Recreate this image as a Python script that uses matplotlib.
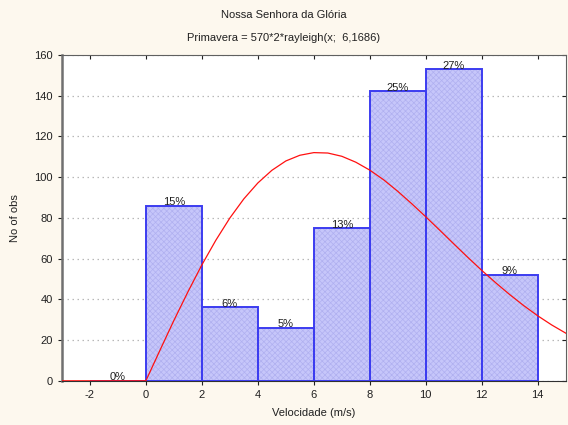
import numpy as np
import matplotlib.pyplot as plt
import matplotlib.lines as mlines

# histogram bins (left edges), counts
bin_left = [-2, 0, 2, 4, 6, 8, 10, 12]
counts = [0, 86, 36, 26, 75, 142, 153, 52]
pct_labels = ["0%", "15%", "6%", "5%", "13%", "25%", "27%", "9%"]

# fitted rayleigh curve
curve_x = [-3, 0, 0.5, 1, 1.5, 2, 2.5, 3, 3.5, 4, 4.5, 5, 5.5, 6, 6.5, 7, 7.5,
           8, 8.5, 9, 9.5, 10, 10.5, 11, 11.5, 12, 12.5, 13, 13.5, 14, 14.5, 15]
curve_y = [0, 0, 14.9, 29.6, 43.6, 56.9, 69.0, 79.9, 89.3, 97.1, 103.3, 107.9,
           110.7, 112.0, 111.8, 110.2, 107.3, 103.4, 98.6, 93.0, 86.9, 80.5,
           73.9, 67.2, 60.6, 54.2, 48.1, 42.3, 36.9, 31.9, 27.4, 23.4]

xticks = [-2, 0, 2, 4, 6, 8, 10, 12, 14]
yticks = [0, 20, 40, 60, 80, 100, 120, 140, 160]

plt.rcParams['font.family'] = ['Liberation Sans', 'DejaVu Sans']
plt.rcParams['hatch.linewidth'] = 0.5
plt.rcParams['axes.unicode_minus'] = False

fig = plt.figure(figsize=(5.68, 4.25), dpi=100)
fig.patch.set_facecolor('#fdf8ee')
ax = fig.add_axes([0.109, 0.104, 0.887, 0.767])
ax.set_facecolor('white')

# hatched fill
ax.bar(bin_left, counts, width=2, align='edge', color='#c6c6fa',
       edgecolor='#b0b0f0', hatch='xxxxxx', linewidth=0, zorder=2)
# outlines
ax.bar(bin_left, counts, width=2, align='edge', fill=False,
       edgecolor='#3c3cf0', linewidth=1.4, zorder=3)

ax.plot(curve_x, curve_y, color='#ff1010', linewidth=0.9, zorder=4)

for xl, c, t in zip(bin_left, counts, pct_labels):
    ax.text(xl + 1, c - 0.8, t, ha='center', va='bottom', fontsize=8,
            color='#202020', zorder=5)

ax.set_xlim(-3, 15)
ax.set_ylim(0, 160)
ax.set_xticks(xticks)
ax.set_yticks(yticks)
ax.tick_params(labelsize=8, length=3, width=0.8, colors='#202020')
ax.tick_params(top=True, right=True)
# top/right ticks point inward
for tk in ax.xaxis.get_major_ticks():
    tk.tick2line.set_marker(mlines.TICKDOWN)
for tk in ax.yaxis.get_major_ticks():
    tk.tick2line.set_marker(mlines.TICKLEFT)
ax.grid(axis='y', linestyle=(0, (1.2, 2.8)), color='#b8b8b8', linewidth=0.9, zorder=1)
ax.set_axisbelow(True)

ax.spines['left'].set_color('#707070')
ax.spines['left'].set_linewidth(1.8)
ax.spines['bottom'].set_color('#303030')
ax.spines['top'].set_color('#606060')
ax.spines['right'].set_color('#606060')

ax.set_xlabel('Velocidade (m/s)', fontsize=8, labelpad=6, color='#202020')
ax.set_ylabel('No of obs', fontsize=8, labelpad=10, color='#202020')

fig.text(0.5, 0.965, 'Nossa Senhora da Glória', ha='center', va='center',
         fontsize=8, color='#202020')
fig.text(0.5, 0.91, 'Primavera = 570*2*rayleigh(x;  6,1686)', ha='center',
         va='center', fontsize=8, color='#202020')

fig.savefig('out.png', dpi=100, facecolor=fig.get_facecolor())
